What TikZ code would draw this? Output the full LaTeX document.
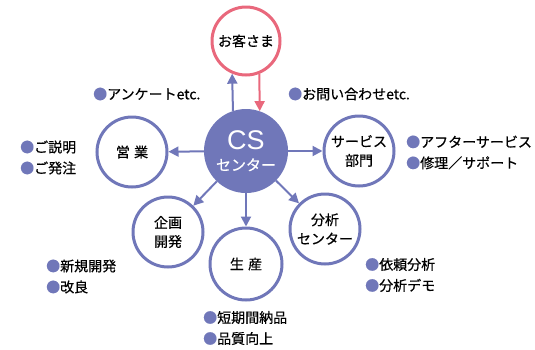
\documentclass[tikz,border=0pt]{standalone}
\usepackage{fontspec}
\setmainfont{Noto Sans CJK JP}[FakeBold=0.6]
\newfontfamily\latinfont{Liberation Sans}
\usetikzlibrary{arrows.meta}
\definecolor{csblue}{HTML}{7077B9}
\definecolor{cspink}{HTML}{E9687C}
\newcommand\bl{\textcolor{csblue}{●}}
\begin{document}
\begin{tikzpicture}[x=1pt,y=-1pt,
  unit/.style={circle,draw=csblue,line width=3pt,fill=white,minimum size=70pt,inner sep=0pt,align=center,font=\fontsize{14}{19}\selectfont},
  link/.style={draw=csblue,line width=2pt,-{Triangle[length=10pt,width=10pt]}},
  plink/.style={draw=cspink,line width=2pt,-{Triangle[length=10pt,width=10pt]}},
  note/.style={anchor=west,align=left,inner sep=0pt,font=\fontsize{14}{21}\selectfont}]
\useasboundingbox (0,0) rectangle (535,349);
\node[circle,fill=csblue,minimum size=84pt,inner sep=0pt,align=center,text=white,font=\fontsize{15}{21}\selectfont] (cs) at (246,151)
  {{\latinfont\fontsize{27}{27}\selectfont CS}\\{\fontsize{15}{15}\selectfont センター}};
\node[unit,draw=cspink,minimum size=68pt] (cust) at (246,41) {お客さま};
\node[unit] (sales) at (132,152) {営\hspace{0.3em}業};
\node[unit] (svc) at (359,151) {サービス\\部門};
\node[unit] (plan) at (168,232) {企画\\開発};
\node[unit,minimum size=72pt] (prod) at (246,264) {生\hspace{0.3em}産};
\node[unit] (anal) at (325,229) {分析\\センター};
\draw[link] (cs.108.75) -- (cust.247.65);
\draw[plink] (cust.292.35) -- (cs.71.25);
\draw[link] (cs) -- (sales);
\draw[link] (cs) -- (svc);
\draw[link] (cs) -- (plan);
\draw[link] (cs) -- (prod);
\draw[link] (cs) -- (anal);
\node[note] (n1) at (93,94) {\bl アンケートetc.};
\node[note] (n2) at (288,94) {\bl お問い合わせetc.};
\node[note] (n3) at (20,157.5) {\bl ご説明\\\bl ご発注};
\node[note] (n4) at (406,152.5) {\bl アフターサービス\\\bl 修理／サポート};
\node[note] (n5) at (46,276.5) {\bl 新規開発\\\bl 改良};
\node[note] (n6) at (365,275) {\bl 依頼分析\\\bl 分析デモ};
\node[note] (n7) at (203,328) {\bl 短期間納品\\\bl 品質向上};
\end{tikzpicture}
\end{document}
